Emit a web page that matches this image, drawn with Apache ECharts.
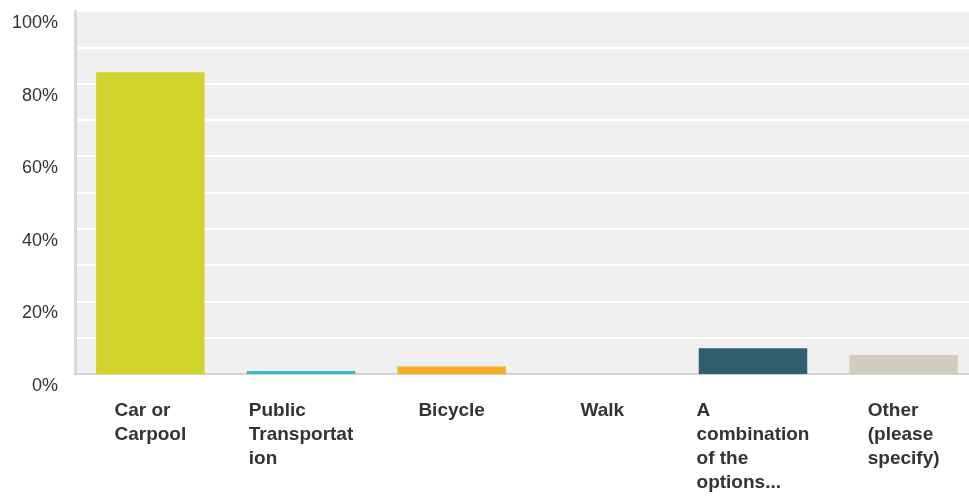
<!DOCTYPE html>
<html>
<head>
<meta charset="utf-8">
<script src="https://cdn.jsdelivr.net/npm/echarts@6/dist/echarts.min.js"></script>
<style>
  html, body { margin: 0; padding: 0; background: #fff; overflow: hidden; }
  /* the plot area in the original runs a little past the right edge */
  #chart { width: 979px; height: 496px; }
</style>
</head>
<body>
<div id="chart"></div>
<script>
// answer categories (pre-wrapped like the original)
const categories = [
  'Car or\nCarpool',
  'Public\nTransportat\nion',
  'Bicycle',
  'Walk',
  'A\ncombination\nof the\noptions...',
  'Other\n(please\nspecify)'
]
// share of responses, percent
const values = [83.1, 0.8, 2.1, 0, 7.1, 5.2]
const colors = ['#d0d42a', '#3bbcbf', '#f7ae22', '#8fb04a', '#2e5f6d', '#cfcdbf']
const yTicks = [0, 20, 40, 60, 80, 100]

const chart = echarts.init(document.getElementById('chart'))
chart.setOption({
  animation: false,
  grid: {
    left: 75,
    right: 0,
    top: 11,
    bottom: 122,
    show: true,
    backgroundColor: '#efefef',
    borderWidth: 0
  },
  xAxis: {
    type: 'category',
    data: categories,
    axisTick: { show: false },
    axisLine: { lineStyle: { color: '#d2d2d2', width: 2 } },
    axisLabel: {
      interval: 0,
      margin: 25,
      align: 'center',
      formatter: function (v) {
        return v.split('\n').map(function (l) { return '{a|' + l + '}' }).join('\n')
      },
      rich: {
        a: {
          align: 'left',
          fontFamily: 'Liberation Sans, Arial, sans-serif',
          fontWeight: 'bold',
          fontSize: 19,
          lineHeight: 24,
          color: '#333'
        }
      }
    }
  },
  yAxis: {
    type: 'value',
    min: 0,
    max: 100,
    interval: 10,
    axisTick: { show: false },
    axisLine: { show: true, lineStyle: { color: '#d8d8d8', width: 3 } },
    splitLine: { lineStyle: { color: '#ffffff', width: 2 } },
    axisLabel: {
      margin: 17,
      verticalAlign: 'top',
      padding: [3, 0, 0, 0],
      fontFamily: 'Liberation Sans, Arial, sans-serif',
      fontSize: 18,
      color: '#333',
      formatter: function (v) {
        return yTicks.indexOf(v) >= 0 ? v + '%' : ''
      }
    }
  },
  series: [{
    type: 'bar',
    barWidth: '72%',
    data: values.map(function (v, i) {
      return { value: v, itemStyle: { color: colors[i] } }
    })
  }]
})
</script>
</body>
</html>
